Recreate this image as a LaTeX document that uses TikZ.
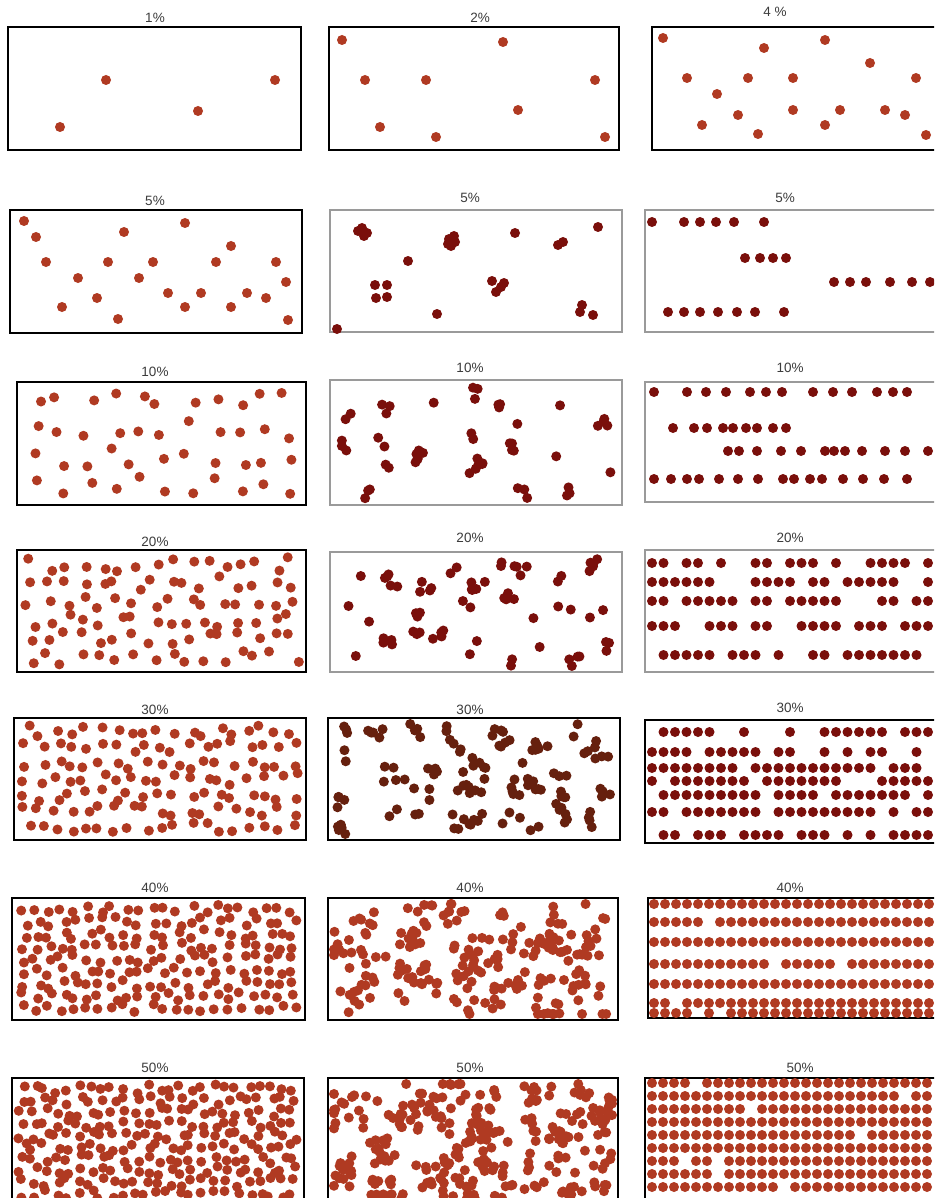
\documentclass[tikz,border=0pt]{standalone}
\usepackage{fontspec}
\setmainfont{Liberation Sans}
\definecolor{brick}{HTML}{B03A22}
\definecolor{dred}{HTML}{7A0F0B}
\definecolor{dbrown}{HTML}{66200E}
\definecolor{lbl}{HTML}{3C3C3C}
\definecolor{gframe}{HTML}{9A9A9A}
\newcommand{\gridpanel}[7]{%
 \pgfmathsetmacro\gsx{(#3-#1-10)/#5}%
 \pgfmathsetmacro\gsy{(#4-#2-10)/#6}%
 \foreach \i in {1,...,#5}{\foreach \j in {1,...,#6}{%
   \pgfmathsetmacro\px{#1+5+(\i-0.5)*\gsx+0.38*\gsx*rand}%
   \pgfmathsetmacro\py{#2+5+(\j-0.5)*\gsy+0.38*\gsy*rand}%
   \fill[#7] (\px,\py) circle[radius=5pt];
 }}}
% x0 y0 x1 y1 ncx ncy maxsize spread color
\newcommand{\clpanel}[9]{%
 \pgfmathsetmacro\gsx{(#3-#1-16)/#5}%
 \pgfmathsetmacro\gsy{(#4-#2-16)/#6}%
 \foreach \ci in {1,...,#5}{\foreach \cj in {1,...,#6}{%
   \pgfmathsetmacro\cx{#1+8+(\ci-0.5)*\gsx+0.45*\gsx*rand}%
   \pgfmathsetmacro\cy{#2+8+(\cj-0.5)*\gsy+0.45*\gsy*rand}%
   \pgfmathtruncatemacro\cn{1+int(#7*rnd)}%
   \foreach \k in {1,...,\cn}{%
     \pgfmathsetmacro\px{max(#1+6,min(#3-6,\cx+#8*rand))}%
     \pgfmathsetmacro\py{max(#2+6,min(#4-6,\cy+#8*rand))}%
     \fill[#9] (\px,\py) circle[radius=5pt];
   }}}}
\newcommand{\rowpanel}[6]{%
 \foreach \yy in {#3}{%
  \pgfmathtruncatemacro\nn{(#2-#1)/#5}%
  \foreach \i in {0,...,\nn}{%
    \pgfmathsetmacro\pr{rnd}%
    \ifdim\pr pt<#4pt \fill[#6] (#1+\i*#5,\yy) circle[radius=5pt];\fi
  }}}
\tikzset{
  frame/.style={draw=black,line width=1.4pt},
  gframe/.style={draw=gframe,line width=1.4pt},
  pct/.style={text=lbl,font=\fontsize{13.5}{15}\selectfont,inner sep=0pt},
}
\begin{document}
\begin{tikzpicture}[x=1pt,y=-1pt]
\useasboundingbox[fill=white] (0,0) rectangle (934,1198);
\clip (0,0) rectangle (934,1198);
% ---------- frames ----------
\draw[frame] (8,27) rectangle (301,150);
\draw[frame] (329,27) rectangle (619,150);
\draw[frame] (652,27) rectangle (945,150);
\draw[frame] (10,210) rectangle (302,333);
\draw[gframe] (330,210) rectangle (622,332);
\draw[gframe] (645,210) rectangle (945,332);
\draw[frame] (17,382) rectangle (306,505);
\draw[gframe] (330,380) rectangle (622,505);
\draw[gframe] (645,382) rectangle (945,502);
\draw[frame] (17,550) rectangle (306,672);
\draw[gframe] (330,552) rectangle (622,672);
\draw[gframe] (645,550) rectangle (945,672);
\draw[frame] (14,718) rectangle (306,840);
\draw[frame] (328,718) rectangle (620,840);
\draw[frame] (645,720) rectangle (945,843);
\draw[frame] (12,898) rectangle (305,1020);
\draw[frame] (328,898) rectangle (618,1020);
\draw[frame] (648,898) rectangle (945,1018);
\draw[frame] (12,1078) rectangle (304,1215);
\draw[frame] (328,1078) rectangle (618,1215);
\draw[frame] (645,1078) rectangle (945,1215);
% ---------- labels ----------
\node[pct] (p1a) at (155,18) {1\%};
\node[pct] (p1b) at (480,18) {2\%};
\node[pct] (p1c) at (775,12) {4 \%};
\node[pct] (p2a) at (155,201) {5\%};
\node[pct] (p2b) at (470,198) {5\%};
\node[pct] (p2c) at (785,198) {5\%};
\node[pct] (p3a) at (155,372) {10\%};
\node[pct] (p3b) at (470,368) {10\%};
\node[pct] (p3c) at (790,368) {10\%};
\node[pct] (p4a) at (155,542) {20\%};
\node[pct] (p4b) at (470,538) {20\%};
\node[pct] (p4c) at (790,538) {20\%};
\node[pct] (p5a) at (155,710) {30\%};
\node[pct] (p5b) at (470,710) {30\%};
\node[pct] (p5c) at (790,708) {30\%};
\node[pct] (p6a) at (155,888) {40\%};
\node[pct] (p6b) at (470,888) {40\%};
\node[pct] (p6c) at (790,888) {40\%};
\node[pct] (p7a) at (155,1068) {50\%};
\node[pct] (p7b) at (470,1068) {50\%};
\node[pct] (p7c) at (800,1068) {50\%};
% ---------- row 1 ----------
\foreach \p in {(60,127),(106,80),(198,111),(275,80)} \fill[brick] \p circle[radius=5pt];
\foreach \p in {(342,40),(503,42),(365,80),(426,80),(595,80),(518,110),(380,127),(436,137),(605,137)} \fill[brick] \p circle[radius=5pt];
\foreach \p in {(663,38),(764,48),(825,40),(870,63),(687,78),(748,78),(793,78),(916,78),(717,94),(702,125),(738,115),(758,134),(793,110),(825,125),(840,110),(885,110),(905,115),(926,135)} \fill[brick] \p circle[radius=5pt];
% ---------- row 2 ----------
\foreach \p in {(24,221),(36,237),(46,262),(78,278),(108,262),(124,232),(153,262),(185,223),(231,246),(216,262),(276,262),(139,278),(62,307),(97,298),(118,319),(168,293),(185,307),(201,293),(231,307),(247,293),(266,298),(286,282),(288,320)} \fill[brick] \p circle[radius=5pt];
\foreach \p in {(358,231),(364,236),(362,228),(367,233),(449,239),(455,242),(451,246),(454,236),(448,244),(515,233),(558,245),(563,242),(598,227),(408,261),(375,285),(387,285),(376,298),(387,297),(492,281),(501,287),(496,292),(504,283),(582,305),(580,312),(593,315),(337,329),(437,314)} \fill[dred] \p circle[radius=5pt];
\foreach \p in {(652,222),(684,222),(700,222),(716,222),(734,222),(764,222),(745,258),(760,258),(773,258),(786,258),(834,282),(850,282),(866,282),(890,282),(912,282),(930,282),(668,312),(684,312),(700,312),(718,312),(737,312),(755,312),(784,312)} \fill[dred] \p circle[radius=5pt];
% ---------- row 3 ----------
\pgfmathsetseed{11}
\gridpanel{17}{382}{306}{505}{11}{4}{brick}
\pgfmathsetseed{12}
\clpanel{330}{380}{622}{505}{8}{3}{3}{6}{dred}
\foreach \x in {654,687,706,726,750,766,782,813,833,852,877,893,907} \fill[dred] (\x,392) circle[radius=5pt];
\foreach \x in {673,694,707,723,733,746,757,773,786} \fill[dred] (\x,428) circle[radius=5pt];
\foreach \x in {728,739,757,781,801,825,834,845,862,885,905,928} \fill[dred] (\x,451) circle[radius=5pt];
\foreach \x in {654,671,687,699,719,738,758,783,794,810,822,843,863,884,907} \fill[dred] (\x,479) circle[radius=5pt];
% ---------- row 4 ----------
\pgfmathsetseed{21}
\gridpanel{17}{550}{306}{672}{16}{6}{brick}
\pgfmathsetseed{22}
\clpanel{330}{552}{622}{672}{9}{3}{5}{8}{dred}
\pgfmathsetseed{23}
\rowpanel{652}{932}{563,582,601,626,655}{0.72}{11.5}{dred}
% ---------- row 5 ----------
\pgfmathsetseed{31}
\gridpanel{14}{718}{306}{840}{19}{7}{brick}
\pgfmathsetseed{32}
\clpanel{328}{718}{620}{840}{10}{4}{5}{9}{dbrown}
\pgfmathsetseed{33}
\rowpanel{652}{932}{732,752,768,781,795,812,835}{0.78}{11.5}{dred}
% ---------- row 6 ----------
\pgfmathsetseed{41}
\gridpanel{12}{898}{305}{1020}{22}{9}{brick}
\pgfmathsetseed{42}
\clpanel{328}{898}{618}{1020}{10}{4}{10}{13}{brick}
\pgfmathsetseed{43}
\rowpanel{654}{932}{904,922,942,964,984,1003,1013}{0.95}{11}{brick}
% ---------- row 7 ----------
\pgfmathsetseed{51}
\gridpanel{12}{1078}{304}{1205}{25}{10}{brick}
\pgfmathsetseed{52}
\clpanel{328}{1078}{618}{1205}{11}{4}{13}{14}{brick}
\pgfmathsetseed{53}
\rowpanel{652}{932}{1083,1096,1109,1122,1135,1148,1161,1174,1187}{0.97}{11}{brick}
\end{tikzpicture}
\end{document}
